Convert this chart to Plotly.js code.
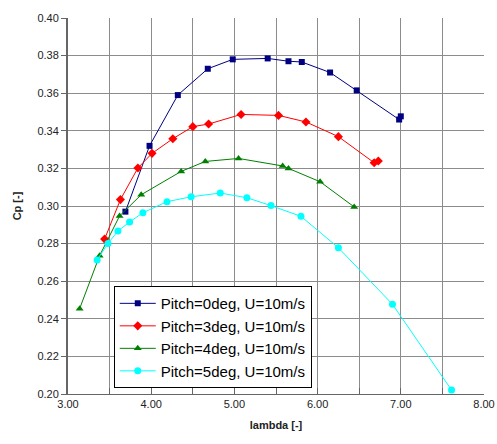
<!DOCTYPE html>
<html>
<head>
<meta charset="utf-8">
<script src="https://cdn.plot.ly/plotly-3.0.1.min.js"></script>
<style>html,body{margin:0;padding:0;background:#fff;}#chart{width:497px;height:444px;}</style>
</head>
<body>
<div id="chart"></div>
<script>
// Pitch = 0 deg
const lambda0 = [3.69, 3.98, 4.32, 4.68, 4.98, 5.40, 5.65, 5.81, 6.15, 6.47, 6.98, 7.00];
const cp0     = [0.297, 0.332, 0.359, 0.373, 0.378, 0.3785, 0.377, 0.3766, 0.371, 0.3615, 0.346, 0.3477];
// Pitch = 3 deg
const lambda3 = [3.44, 3.63, 3.84, 4.01, 4.26, 4.50, 4.69, 5.08, 5.53, 5.86, 6.25, 6.68, 6.73];
const cp3     = [0.2824, 0.3034, 0.3202, 0.328, 0.3358, 0.3422, 0.3436, 0.3487, 0.3482, 0.3447, 0.3369, 0.323, 0.3239];
// Pitch = 4 deg
const lambda4 = [3.14, 3.38, 3.62, 3.88, 4.36, 4.65, 5.05, 5.58, 5.65, 6.03, 6.44];
const cp4     = [0.2454, 0.2736, 0.2947, 0.306, 0.3184, 0.3237, 0.3253, 0.3213, 0.320, 0.3129, 0.2995];
// Pitch = 5 deg
const lambda5 = [3.35, 3.48, 3.60, 3.74, 3.90, 4.19, 4.48, 4.83, 5.15, 5.44, 5.80, 6.25, 6.90, 7.61];
const cp5     = [0.2713, 0.2801, 0.2867, 0.2915, 0.2964, 0.3023, 0.3049, 0.3069, 0.3044, 0.3002, 0.2945, 0.2778, 0.2477, 0.2021];

const seriesNames = ['Pitch=0deg, U=10m/s', 'Pitch=3deg, U=10m/s', 'Pitch=4deg, U=10m/s', 'Pitch=5deg, U=10m/s'];
const xTickVals = [3, 3.5, 4, 4.5, 5, 5.5, 6, 6.5, 7, 7.5, 8];
const xTickText = ['3.00', '', '4.00', '', '5.00', '', '6.00', '', '7.00', '', '8.00'];
const yTickVals = [0.20, 0.22, 0.24, 0.26, 0.28, 0.30, 0.32, 0.34, 0.36, 0.38, 0.40];
const yTickText = ['0.20', '0.22', '0.24', '0.26', '0.28', '0.30', '0.32', '0.34', '0.36', '0.38', '0.40'];

const styles = [
  {color: '#000080', symbol: 'square', size: 6},
  {color: '#ff0000', symbol: 'diamond', size: 7},
  {color: '#008000', symbol: 'triangle-up', size: 7},
  {color: '#00ffff', symbol: 'circle', size: 7}
];
const xs = [lambda0, lambda3, lambda4, lambda5];
const ys = [cp0, cp3, cp4, cp5];

const data = xs.map((x, i) => ({
  x: x, y: ys[i], type: 'scatter', mode: 'lines+markers', name: seriesNames[i],
  line: {color: styles[i].color, width: 1},
  marker: {color: styles[i].color, symbol: styles[i].symbol, size: styles[i].size}
}));

const layout = {
  width: 497, height: 444,
  margin: {l: 68, r: 13, t: 18, b: 50, pad: 0},
  paper_bgcolor: '#fff', plot_bgcolor: '#fff',
  font: {family: 'Liberation Sans, Arial, sans-serif', size: 11, color: '#222'},
  showlegend: true,
  legend: {
    x: 0.11, y: 0.287, xanchor: 'left', yanchor: 'top',
    bgcolor: '#fff', bordercolor: '#000', borderwidth: 1,
    font: {family: 'Liberation Sans, Arial, sans-serif', size: 15, color: '#000'},
    tracegroupgap: 0, itemwidth: 36
  },
  xaxis: {
    range: [3, 8], tickvals: xTickVals, ticktext: xTickText,
    showgrid: true, gridcolor: '#8c8c8c', gridwidth: 1,
    ticks: 'inside', ticklen: 6, tickcolor: '#666',
    showline: true, linecolor: '#666', linewidth: 1, mirror: false, zeroline: false,
    title: {text: 'lambda [-]', font: {family: 'Liberation Sans, Arial, sans-serif', size: 11, color: '#222', weight: 'bold'}, standoff: 12}
  },
  yaxis: {
    range: [0.20, 0.40], tickvals: yTickVals, ticktext: yTickText,
    showgrid: true, gridcolor: '#8c8c8c', gridwidth: 1,
    ticks: 'outside', ticklen: 5, tickcolor: '#666',
    showline: true, linecolor: '#666', linewidth: 2, zeroline: false,
    title: {text: 'Cp [-]', font: {family: 'Liberation Sans, Arial, sans-serif', size: 11, color: '#222', weight: 'bold'}, standoff: 14}
  }
};

Plotly.newPlot('chart', data, layout, {displayModeBar: false, staticPlot: true});
</script>
</body>
</html>
